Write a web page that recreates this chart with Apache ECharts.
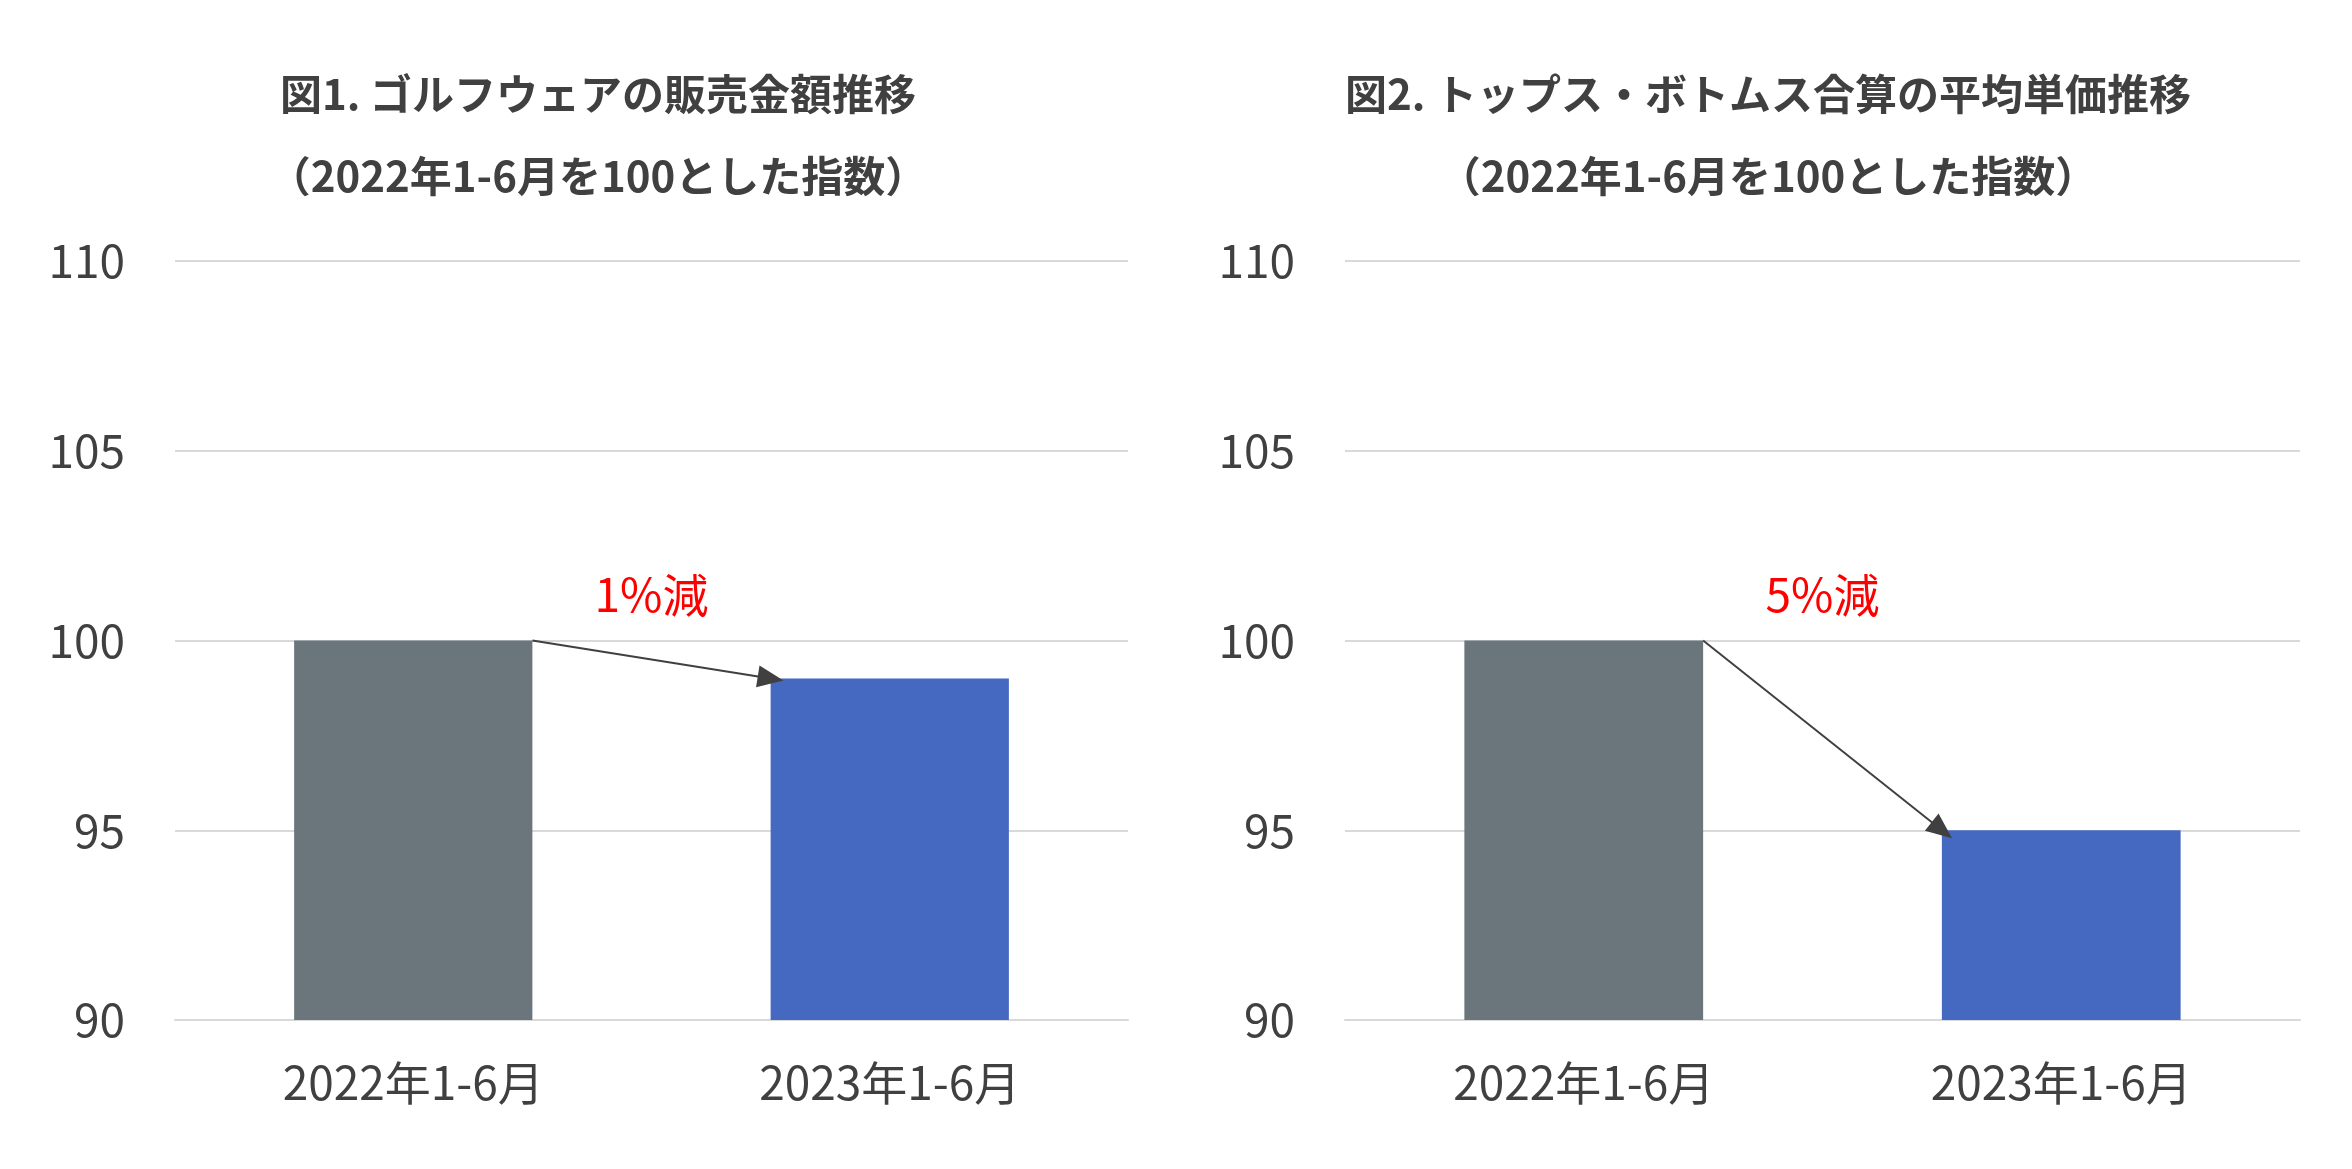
<!DOCTYPE html>
<html><head><meta charset="utf-8">
<script src="https://cdn.jsdelivr.net/npm/echarts@6/dist/echarts.min.js"></script>
<style>html,body{margin:0;padding:0;background:#fff}#c{width:2352px;height:1169px}</style>
</head><body><div id="c"></div>
<script>
const categories = ['2022年1-6月', '2023年1-6月'];
const sales = [100, 99];
const price = [100, 95];
const yTicks = [90, 95, 100, 105, 110];
const titles = [['図1. ゴルフウェアの販売金額推移', '（2022年1-6月を100とした指数）'], ['図2. トップス・ボトムス合算の平均単価推移', '（2022年1-6月を100とした指数）']];
const notes = ['1%減', '5%減'];
const font = 'Noto Sans CJK JP';
const chart = echarts.init(document.getElementById('c'));
const grids = [{left: 175, width: 953, top: 261, height: 759}, {left: 1345, width: 955, top: 261, height: 759}];
const datasets = [sales, price];
function opt(extra) {
  return {
    animation: false,
    title: titles.map((t, i) => ({text: t[0] + '\n' + t[1], left: i === 0 ? 593 : 1763, top: 48, textAlign: 'center',
      textStyle: {fontFamily: font, fontSize: 42, fontWeight: 'bold', color: '#404040', lineHeight: 82}})),
    grid: grids,
    xAxis: grids.map((g, i) => ({type: 'category', gridIndex: i, data: categories, axisTick: {show: false},
      axisLine: {lineStyle: {color: '#d9d9d9', width: 2}},
      axisLabel: {fontFamily: font, fontSize: 46, color: '#404040', margin: 40}})),
    yAxis: grids.map((g, i) => ({type: 'value', gridIndex: i, min: yTicks[0], max: yTicks[yTicks.length - 1], interval: 5,
      axisLabel: {fontFamily: font, fontSize: 46, color: '#404040', margin: 50},
      splitLine: {lineStyle: {color: '#d9d9d9', width: 2}}})),
    series: datasets.map((d, i) => ({type: 'bar', xAxisIndex: i, yAxisIndex: i, barWidth: '50%',
      data: d.map((v, j) => ({value: v, itemStyle: {color: j === 0 ? '#6b767c' : '#4569c0'}})),
      markLine: extra ? extra.lines[i] : undefined})),
    graphic: extra ? extra.texts : []
  };
}
chart.setOption(opt(null));
const lines = [], texts = [];
datasets.forEach((d, i) => {
  const p0 = chart.convertToPixel({xAxisIndex: i, yAxisIndex: i}, [0, d[0]]);
  const p1 = chart.convertToPixel({xAxisIndex: i, yAxisIndex: i}, [1, d[1]]);
  const bw = (p1[0] - p0[0]) * 0.5;
  const a = [p0[0] + bw / 2, p0[1]], b = [p1[0] - bw / 2, p1[1]];
  lines.push({silent: true, symbol: ['none', 'triangle'], symbolSize: [22, 26], label: {show: false},
    lineStyle: {color: '#404040', width: 2, type: 'solid'}, data: [[{x: a[0], y: a[1]}, {x: b[0], y: b[1]}]]});
  const top = chart.convertToPixel({xAxisIndex: i, yAxisIndex: i}, [0, 101.2]);
  texts.push({type: 'text', x: (p0[0] + p1[0]) / 2, y: top[1], style: {text: notes[i], fill: '#ff0000',
    font: '46px "' + font + '"', textAlign: 'center', textVerticalAlign: 'middle'}});
});
chart.setOption(opt({lines, texts}));
</script></body></html>
